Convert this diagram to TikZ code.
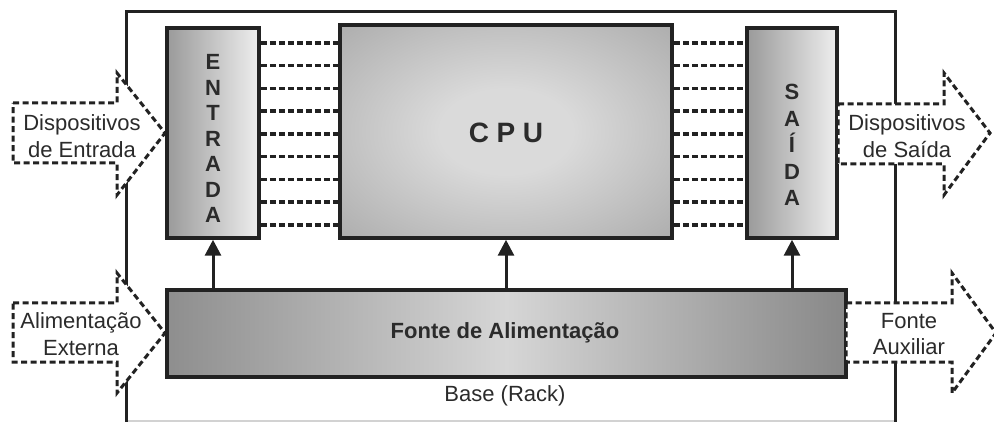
\documentclass[tikz,border=0pt]{standalone}
\usepackage{fontspec}
\setmainfont{Liberation Sans}
\usetikzlibrary{arrows.meta}
\definecolor{ink}{HTML}{222222}
\definecolor{txt}{HTML}{2B2B2B}
\definecolor{entL}{HTML}{9A9A9A}
\definecolor{entR}{HTML}{EEEEEE}
\definecolor{cpuC}{HTML}{DADADA}
\definecolor{cpuE}{HTML}{949494}
\definecolor{fonL}{HTML}{8E8E8E}
\definecolor{fonM}{HTML}{D6D6D6}
\definecolor{fonR}{HTML}{888888}
\pgfdeclareradialshading{cpushade}{\pgfpoint{0bp}{0bp}}{color(0bp)=(cpuC); color(10bp)=(cpuC); color(50bp)=(cpuE); color(75bp)=(cpuE)}
\tikzset{
  frame/.style={draw=ink, line width=3pt},
  box/.style={draw=ink, line width=3.5pt, inner sep=0pt},
  dasharrow/.style={draw=ink, fill=white, line width=3pt, dash pattern=on 6pt off 3.5pt, line join=miter},
  bus/.style={draw=ink, line width=3.5pt, dash pattern=on 6pt off 3pt},
  up/.style={draw=ink, line width=3pt, -{Triangle[width=16pt,length=16pt]}},
  lbl/.style={text=txt, align=center, inner sep=0pt, font=\fontsize{22}{26.5}\selectfont},
  blbl/.style={text=txt, align=center, inner sep=0pt, font=\bfseries\fontsize{22}{25.5}\selectfont},
}
\begin{document}
\begin{tikzpicture}[x=1pt, y=-1pt]
\useasboundingbox (0,0) rectangle (994,422);
% outer base
\draw[draw=gray!35, line width=2pt] (126,420.5) -- (895,420.5);
\draw[frame] (126,424) -- (126,12) -- (895,12) -- (895,424);
% external dashed arrows
\draw[dasharrow] (13,103) -- (117,103) -- (117,73) -- (165,133) -- (117,195) -- (117,163) -- (13,163) -- cycle;
\draw[dasharrow] (13,303) -- (117,303) -- (117,273) -- (165,333) -- (117,393) -- (117,362) -- (13,362) -- cycle;
% boxes
\node[box, minimum width=92pt, minimum height=210pt, left color=entL, right color=entR] (ent) at (213,133) {};
\node[box, minimum width=332pt, minimum height=213pt, shading=cpushade] (cpu) at (506,131.5) {};
\node[box, minimum width=90pt, minimum height=210pt, left color=entL, right color=entR] (sai) at (792,133) {};
\node[box, minimum width=679pt, minimum height=87pt, left color=fonL, right color=fonR, middle color=fonM] (fon) at (506.5,333.5) {};
% right dashed arrows
\draw[dasharrow] (838,104) -- (944,104) -- (944,73) -- (990,133) -- (944,195) -- (944,164) -- (838,164) -- cycle;
\draw[dasharrow] (846,303) -- (952,303) -- (952,273) -- (996,333) -- (952,393) -- (952,362) -- (846,362) -- cycle;
% labels
\node[blbl] (entt) at (213,138.5) {E\\N\\T\\R\\A\\D\\A};
\node[blbl, font=\bfseries\fontsize{22}{26.5}\selectfont] (sait) at (792,145) {S\\A\\Í\\D\\A};
\node[blbl, font=\bfseries\fontsize{28}{30}\selectfont] (cput) at (506,133) {C\hspace{7.5pt}P\hspace{7.5pt}U};
\node[blbl] (font) at (505,333) {Fonte de Alimentação};
\node[lbl] (din) at (82,136) {Dispositivos\\de Entrada};
\node[lbl] (dout) at (907,136) {Dispositivos\\de Saída};
\node[lbl] (ali) at (81,334) {Alimentação\\Externa};
\node[lbl] (aux) at (909,334) {Fonte\\Auxiliar};
\node[lbl] (rack) at (505,396) {Base (Rack)};
% buses
\foreach \i in {0,...,8} {
  \pgfmathsetmacro\yy{43+22.75*\i}
  \draw[bus] (ent.east |- 0,\yy) -- (cpu.west |- 0,\yy);
  \draw[bus] (cpu.east |- 0,\yy) -- (sai.west |- 0,\yy);
}
% power arrows
\draw[up] (fon.north -| ent.south) -- (ent.south);
\draw[up] (fon.north -| cpu.south) -- (cpu.south);
\draw[up] (fon.north -| sai.south) -- (sai.south);
\end{tikzpicture}
\end{document}
